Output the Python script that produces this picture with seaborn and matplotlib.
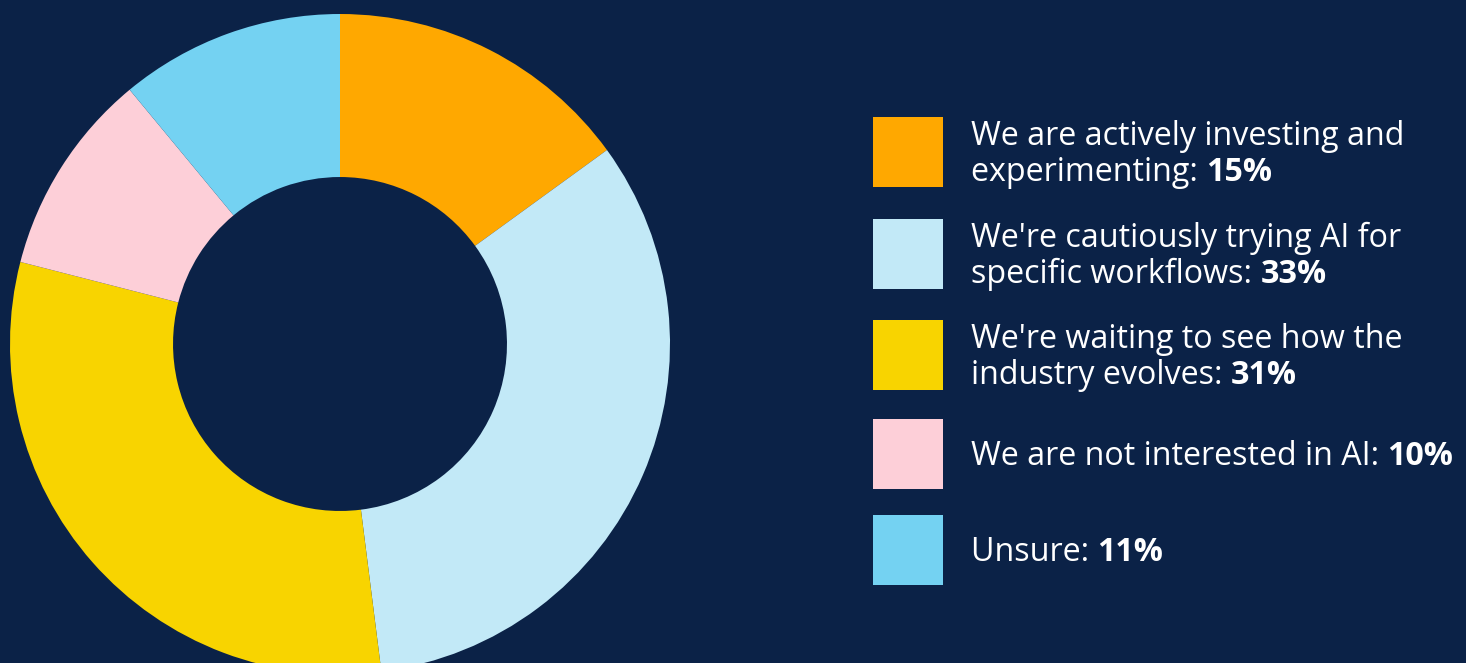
import matplotlib
matplotlib.use("Agg")
import matplotlib.pyplot as plt
from matplotlib.patches import Rectangle
from matplotlib import transforms
import seaborn as sns

# Survey responses: attitude toward AI adoption
labels_line1 = [
    "We are actively investing and",
    "We're cautiously trying AI for",
    "We're waiting to see how the",
    "We are not interested in AI: ",
    "Unsure: ",
]
labels_line2 = [
    "experimenting: ",
    "specific workflows: ",
    "industry evolves: ",
    None,
    None,
]
shares = [15, 33, 31, 10, 11]
colors = ["#FFA800", "#C2E9F7", "#F8D400", "#FDCFD8", "#74D2F2"]

BG = "#0B2247"
W, H = 1466, 663
DPI = 100

sns.set_theme(style="white", palette=sns.color_palette(colors))
plt.rcParams["font.family"] = ["Open Sans", "DejaVu Sans"]

fig = plt.figure(figsize=(W / DPI, H / DPI), dpi=DPI, facecolor=BG)

# Donut axes: centre (340, 344) px, outer radius 330 px
cx, cy, R = 340, 344, 330
ax = fig.add_axes([(cx - R) / W, (H - cy - R) / H, 2 * R / W, 2 * R / H])
ax.set_facecolor(BG)
ax.pie(
    shares,
    colors=sns.color_palette(colors),
    startangle=90,
    counterclock=False,
    radius=1.0,
    wedgeprops=dict(width=0.494, linewidth=0),
)
ax.set_xlim(-1, 1)
ax.set_ylim(-1, 1)
ax.set_aspect("equal")
ax.axis("off")

# Legend drawn in pixel space on an overlay axes
lax = fig.add_axes([0, 0, 1, 1], facecolor="none")
lax.set_xlim(0, W)
lax.set_ylim(H, 0)
lax.axis("off")

box_x, box_w, box_h = 873, 70, 70
box_tops = [117, 219, 320, 419, 515]
text_x = 971
fs = 23.2

fig.canvas.draw()
renderer = fig.canvas.get_renderer()
px_y = transforms.blended_transform_factory(transforms.IdentityTransform(), lax.transData)

for top, c, l1, l2, val in zip(box_tops, colors, labels_line1, labels_line2, shares):
    lax.add_patch(Rectangle((box_x, top), box_w, box_h, facecolor=c, edgecolor="none"))
    center = top + box_h / 2
    if l2 is None:
        lines = [(l1, center + 11)]
    else:
        lines = [(l1, center - 7), (l2, center + 29)]
    last = None
    for txt, base in lines:
        last = lax.text(text_x, base, txt, color="white", fontsize=fs,
                        va="baseline", ha="left")
    # bold percentage appended after the last line
    bb = last.get_window_extent(renderer=renderer)
    lax.text(bb.x1, lines[-1][1], f"{val}%", color="white", fontsize=fs,
             fontweight="bold", va="baseline", ha="left", transform=px_y)

fig.savefig("out.png", dpi=DPI, facecolor=BG)
